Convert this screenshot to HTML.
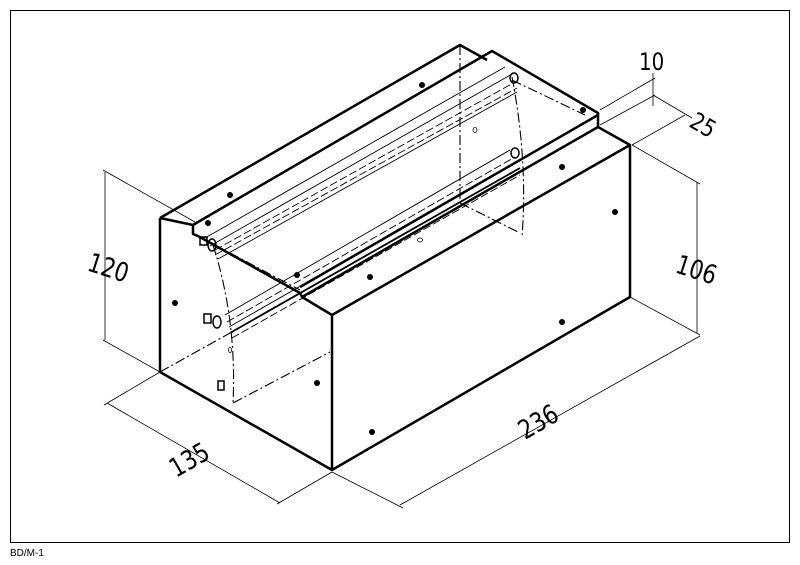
<!DOCTYPE html>
<html><head><style>
html,body{margin:0;padding:0;background:#fff;}
svg{display:block;}
text{font-family:"DejaVu Sans","Liberation Sans",sans-serif;fill:#000;}
</style></head><body>
<svg width="800" height="565" viewBox="0 0 800 565" xmlns="http://www.w3.org/2000/svg">
<rect x="10.5" y="10.5" width="779" height="532" fill="none" stroke="#000" stroke-width="1"/>
<text x="10" y="556" font-size="10" style="font-family:'Liberation Sans',sans-serif">BD/M-1</text>

<!-- dimension lines -->
<g stroke="#000" stroke-width="0.8" fill="none">
<line x1="105" y1="172" x2="105" y2="340"/>
<line x1="103" y1="170" x2="195" y2="222"/>
<line x1="103" y1="340" x2="160" y2="372"/>
<line x1="697" y1="182" x2="697" y2="333"/>
<line x1="632" y1="145" x2="700" y2="184"/>
<line x1="630" y1="297" x2="700" y2="335"/>
<line x1="107" y1="403" x2="280" y2="503"/>
<line x1="160" y1="372" x2="104" y2="405"/>
<line x1="332" y1="472" x2="277" y2="504"/>
<line x1="400" y1="505" x2="700" y2="336"/>
<line x1="332" y1="472" x2="403" y2="508"/>
<line x1="600" y1="110" x2="655" y2="78"/>
<line x1="600" y1="125" x2="655" y2="95"/>
<line x1="632" y1="145" x2="685" y2="115"/>
<line x1="653" y1="73" x2="653" y2="106"/>
<line x1="653" y1="95" x2="692" y2="118"/>
</g>
<text x="0" y="0" font-size="24" transform="translate(86,270) rotate(18) scale(0.9,1.1)">120</text>
<text x="0" y="0" font-size="24" transform="translate(674,272) rotate(18) scale(0.9,1.1)">106</text>
<text x="0" y="0" font-size="24" transform="translate(176,478) rotate(-30) scale(0.9,1.1)">135</text>
<text x="0" y="0" font-size="24" transform="translate(525,440) rotate(-30) scale(0.9,1.1)">236</text>
<text x="0" y="0" font-size="22" transform="translate(639,70) scale(0.9,1.1)">10</text>
<text x="0" y="0" font-size="22" transform="translate(688,126) rotate(30) scale(0.9,1.1)">25</text>

<!-- main outlines -->
<g stroke="#000" stroke-width="2.5" fill="none" stroke-linejoin="round">
<polyline points="160,218 460,45 487,60"/>
<polyline points="160,218 193,225 193,234 198,236 300,293 302,297 332,315 332,470 160,372 160,218"/>
<polyline points="198,222 492,51 598,113 598,127 630,145 630,297 332,470"/>
<line x1="332" y1="315" x2="630" y2="145"/>
<line x1="302" y1="297" x2="598" y2="127"/>
<line x1="300" y1="287" x2="598" y2="115"/>
<line x1="193" y1="225" x2="198" y2="222"/>
</g>

<!-- hidden lines -->
<g stroke="#000" stroke-width="1.1" fill="none" stroke-dasharray="10,3,2,3">
<line x1="460" y1="45" x2="460" y2="203"/>
<line x1="460" y1="203" x2="520" y2="233"/>
<path d="M512,77 Q528,160 522,237"/>
<path d="M213,245 Q237,320 233,403"/>
<line x1="160" y1="372" x2="230" y2="333"/>
<line x1="233" y1="403" x2="330" y2="352"/>
<line x1="512" y1="80" x2="585" y2="115"/>
<line x1="230" y1="253" x2="300" y2="290"/>
</g>

<!-- rails -->
<g stroke="#000" stroke-width="0.9" fill="none">
<line x1="205" y1="238" x2="505" y2="67"/>
<line x1="210" y1="246" x2="512" y2="74"/>
<line x1="215" y1="250" x2="515" y2="82" stroke-dasharray="8,3"/>
<line x1="215" y1="255" x2="517" y2="88" stroke-dasharray="8,3"/>
<line x1="218" y1="259" x2="517" y2="92"/>
<line x1="225" y1="315" x2="510" y2="150"/>
<line x1="227" y1="322" x2="515" y2="157" stroke-dasharray="8,3"/>
<line x1="229" y1="327" x2="517" y2="162"/>
<line x1="230" y1="333" x2="520" y2="168" stroke-width="1.8"/>
<line x1="232" y1="338" x2="520" y2="175" stroke-dasharray="8,3"/>
</g>

<!-- small hardware -->
<g stroke="#000" stroke-width="1.5" fill="none">
<rect x="200" y="237" width="7" height="8"/>
<ellipse cx="212" cy="245" rx="4" ry="6"/>
<rect x="204" y="314" width="7" height="9"/>
<ellipse cx="217" cy="322" rx="4" ry="6"/>
<rect x="218" y="381" width="6" height="9"/>
<ellipse cx="514" cy="78" rx="4" ry="5"/>
<ellipse cx="515" cy="153" rx="4" ry="5"/>
</g>
<g fill="#000">
<circle cx="230" cy="195" r="3"/><circle cx="422" cy="85" r="3"/><circle cx="583" cy="110" r="3"/>
<circle cx="208" cy="223" r="3"/><circle cx="297" cy="275" r="3"/><circle cx="562" cy="167" r="3"/>
<circle cx="615" cy="212" r="3"/><circle cx="370" cy="277" r="3"/><circle cx="562" cy="322" r="3"/>
<circle cx="175" cy="303" r="3"/><circle cx="317" cy="383" r="3"/><circle cx="372" cy="432" r="3"/>
</g>
<g stroke="#000" stroke-width="0.8" fill="none">
<ellipse cx="475" cy="130" rx="2" ry="2.5"/>
<ellipse cx="420" cy="240" rx="2.5" ry="2"/>
<ellipse cx="230" cy="350" rx="1.5" ry="2.5"/>
</g>
</svg>
</body></html>
